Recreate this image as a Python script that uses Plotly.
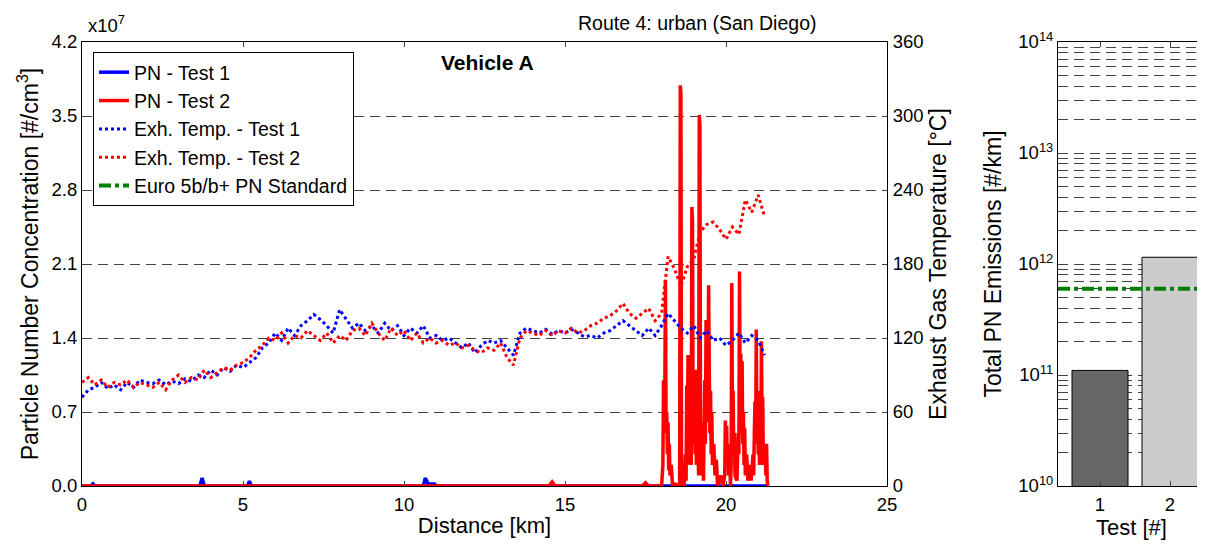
import plotly.graph_objects as go

# ---------------- data ----------------
temp_dist = [round(0.2 * i, 1) for i in range(107)]  # 0.0 ... 21.2 km
temp_test1 = [72, 78, 80, 84, 79, 82, 78, 84, 80, 86, 84, 83, 86, 82, 85, 83, 87, 85, 90, 88,
              94, 90, 96, 93, 98, 96, 100, 104, 112, 116, 124, 118, 128, 122, 130, 134, 139, 135, 130, 124,
              143, 136, 128, 132, 126, 130, 124, 132, 126, 130, 122, 128, 124, 130, 120, 122, 118, 120, 116, 112,
              116, 108, 114, 118, 116, 118, 112, 106, 124, 128, 126, 124, 127, 123, 126, 124, 127, 124, 121, 122,
              120, 124, 126, 130, 134, 130, 126, 122, 128, 122, 130, 140, 134, 128, 124, 130, 120, 126, 118, 120,
              114, 118, 124, 116, 122, 118, 106]
temp_test2 = [84, 88, 82, 86, 80, 84, 82, 86, 80, 84, 82, 80, 84, 78, 86, 90, 84, 88, 86, 94,
              88, 92, 96, 94, 98, 100, 104, 110, 114, 120, 118, 124, 116, 122, 120, 126, 122, 118, 124, 116,
              122, 118, 126, 128, 122, 132, 124, 118, 128, 122, 126, 118, 124, 116, 120, 116, 118, 114, 116, 112,
              114, 110, 108, 112, 110, 116, 104, 98, 120, 126, 124, 122, 126, 122, 126, 124, 128, 124, 126, 130,
              132, 136, 138, 142, 148, 140, 136, 140, 144, 134, 140, 186, 176, 162, 178, 184, 206, 212, 214, 208,
              200, 210, 204, 232, 222, 236, 218]

pn_dist_test1 = [0, 0.28, 0.34, 0.40, 3.66, 3.73, 3.80, 5.14, 5.20, 5.26, 10.60, 10.66, 10.75, 10.95, 11.0, 21.3]
pn_test1 = [0, 0, 0.02, 0, 0, 0.075, 0, 0, 0.045, 0, 0, 0.075, 0.02, 0.02, 0, 0]  # x10^7 #/cm3

pn_dist_test2 = [0, 14.5, 14.6, 14.7, 17.4, 17.5, 17.6,
                 17.90, 18.00, 18.04, 18.06, 18.08, 18.10, 18.12, 18.14, 18.16, 18.18, 18.20, 18.22, 18.24,
                 18.26, 18.30, 18.34, 18.40, 18.56, 18.58, 18.60, 18.62, 18.70, 18.74, 18.76, 18.78, 18.80,
                 18.82, 18.84, 18.86, 18.88, 18.92, 18.94, 18.96, 18.98, 19.00, 19.02, 19.04, 19.06, 19.08,
                 19.10, 19.12, 19.15, 19.17, 19.19, 19.21, 19.23, 19.25, 19.27, 19.30, 19.34, 19.36, 19.38,
                 19.40, 19.42, 19.44, 19.46, 19.48, 19.50, 19.52, 19.54, 19.56, 19.58, 19.62, 19.66, 19.70,
                 19.74, 19.84, 19.90, 19.96, 19.98, 20.00, 20.02, 20.04, 20.06, 20.08, 20.12, 20.14, 20.16,
                 20.18, 20.20, 20.22, 20.24, 20.26, 20.28, 20.34, 20.38, 20.40, 20.42, 20.44, 20.46, 20.48,
                 20.50, 20.52, 20.54, 20.56, 20.58, 20.60, 20.64, 20.68, 20.74, 20.78, 20.84, 20.86, 20.88,
                 20.90, 20.92, 20.94, 20.96, 20.98, 21.00, 21.02, 21.04, 21.06, 21.08, 21.10, 21.12, 21.14,
                 21.16, 21.20, 21.24, 21.26, 21.28, 21.30]
pn_test2 = [0, 0, 0.04, 0, 0, 0.03, 0,
            0, 0, 0.2, 1.0, 0.5, 0.9, 1.95, 0.5, 0.7, 0.3, 0.6, 0.15, 0.4,
            0.1, 0.2, 0, 0.02, 0, 3.79, 3.7, 0, 0, 0.3, 0.05, 0.95, 0.4,
            1.24, 0.2, 0.7, 0.3, 0.2, 2.64, 2.5, 0.4, 1.1, 0.9, 0.3, 0.8, 0.2,
            1.1, 0.5, 0.1, 3.51, 3.4, 0.2, 0.6, 0.1, 0.4, 0.05, 1.0, 0.4, 1.57,
            0.6, 1.2, 0.8, 1.9, 1.1, 0.5, 0.9, 0.3, 0.7, 0.2, 0.4, 0.1, 0.25,
            0, 0.1, 0, 0.1, 0.62, 0.3, 0.57, 0.2, 0.4, 0.1, 0.2, 0, 0.2,
            1.92, 0.6, 0.9, 0.3, 0.5, 0.1, 0.05, 0.5, 0.3, 2.03, 0.8, 1.25, 0.5,
            1.18, 0.4, 0.7, 0.2, 0.55, 0.1, 0.3, 0.05, 0.2, 0.05, 0.3, 0.1, 0.5,
            0.8, 0.4, 1.48, 0.5, 0.9, 0.3, 0.6, 0.2, 0.5, 0.2, 1.37, 0.6, 0.84,
            0.2, 0.4, 0.1, 0.4, 0.05, 0]  # x10^7 #/cm3

tests = [1, 2]
total_pn = [1.1e11, 1.15e12]  # #/km
bar_colors = ["#666666", "#cccccc"]
euro_std = 6.0e11  # #/km
euro_x = [0.4, 2.6]

left_ticks = [0, 0.7, 1.4, 2.1, 2.8, 3.5, 4.2]
left_ticktext = ["0.0", "0.7", "1.4", "2.1", "2.8", "3.5", "4.2"]
right_ticks = [0, 60, 120, 180, 240, 300, 360]
dist_ticks = [0, 5, 10, 15, 20, 25]
log_major = [1e10, 1e11, 1e12, 1e13, 1e14]
log_major_text = ["10<sup>10</sup>", "10<sup>11</sup>", "10<sup>12</sup>", "10<sup>13</sup>", "10<sup>14</sup>"]
log_minor = [m * 10 ** e for e in range(10, 14) for m in range(2, 10)]

# ---------------- figure ----------------
FONT = "Arial, Liberation Sans, sans-serif"
OFF = 8  # page body margin
W, H = 1205 - OFF, 544 - OFF


def px_x(p):
    return (p - OFF) / W


def px_y(p):
    return 1 - (p - OFF) / H


fig = go.Figure()

fig.add_trace(go.Scatter(x=pn_dist_test1, y=pn_test1, mode="lines", name="PN - Test 1",
                         line=dict(color="#0000ff", width=3.5), xaxis="x", yaxis="y",
                         legendgroup="a"))
fig.add_trace(go.Scatter(x=pn_dist_test2, y=pn_test2, mode="lines", name="PN - Test 2",
                         line=dict(color="#ff0000", width=3.5), xaxis="x", yaxis="y",
                         legendgroup="b"))
fig.add_trace(go.Scatter(x=temp_dist, y=temp_test1, mode="lines", name="Exh. Temp. - Test 1",
                         line=dict(color="#0000ff", width=3, dash="dot"), xaxis="x", yaxis="y2",
                         legendgroup="c"))
fig.add_trace(go.Scatter(x=temp_dist, y=temp_test2, mode="lines", name="Exh. Temp. - Test 2",
                         line=dict(color="#ff0000", width=3, dash="dot"), xaxis="x", yaxis="y2",
                         legendgroup="d"))

fig.add_trace(go.Bar(x=tests, y=total_pn, marker=dict(color=bar_colors, line=dict(color="black", width=1)),
                     width=0.8, showlegend=False, xaxis="x3", yaxis="y3"))
fig.add_trace(go.Scatter(x=euro_x, y=[euro_std, euro_std], mode="lines", name="Euro 5b/b+ PN Standard",
                         line=dict(color="#008000", width=4, dash="dashdot"), xaxis="x3", yaxis="y3",
                         legendgroup="e"))

ydom = [px_y(486), px_y(42)]
tickfont = dict(family=FONT, size=18.5, color="black")
xtitlefont = dict(family=FONT, size=22, color="black")
ytitlefont = dict(family=FONT, size=23, color="black")
grid_dash = "10px,6px"

fig.update_layout(
    width=W, height=H,
    margin=dict(l=0, r=0, t=0, b=0),
    paper_bgcolor="white", plot_bgcolor="white",
    font=dict(family=FONT, size=18, color="black"),
    showlegend=True,
    legend=dict(x=px_x(93), y=px_y(52), xanchor="left", yanchor="top",
                bgcolor="white", bordercolor="black", borderwidth=1,
                font=dict(family=FONT, size=19.5, color="black"),
                tracegroupgap=3, traceorder="normal"),
    xaxis=dict(domain=[px_x(82), px_x(887)], range=[0, 25], tickvals=dist_ticks,
               ticks="inside", ticklen=5, showline=True, linecolor="black", linewidth=1,
               mirror="ticks", showgrid=False, zeroline=False, tickfont=tickfont,
               ticklabelstandoff=2,
               title=dict(text="Distance [km]", font=xtitlefont, standoff=3), automargin=False,
               anchor="y"),
    yaxis=dict(domain=ydom, range=[0, 4.2], tickvals=left_ticks, ticktext=left_ticktext,
               ticks="inside", ticklen=5, showline=True, linecolor="black", linewidth=1,
               showgrid=True, gridcolor="#444444", griddash=grid_dash, gridwidth=1,
               zeroline=False, tickfont=tickfont, automargin=False, anchor="x",
               title=dict(text="Particle Number Concentration [#/cm<sup>3</sup>]", font=ytitlefont,
                          standoff=6)),
    yaxis2=dict(domain=ydom, range=[0, 360], tickvals=right_ticks, overlaying="y", side="right",
                ticks="inside", ticklen=5, showline=True, linecolor="black", linewidth=1,
                showgrid=False, zeroline=False, tickfont=tickfont, automargin=False, anchor="x",
                ticklabelstandoff=1,
                title=dict(text="Exhaust Gas Temperature [°C]", font=ytitlefont, standoff=7)),
    xaxis3=dict(domain=[px_x(1058), 1.0], range=[0.4, 2.5], tickvals=tests,
                ticks="inside", ticklen=5, showline=True, linecolor="black", linewidth=1,
                mirror="ticks", showgrid=False, zeroline=False, tickfont=tickfont, automargin=False,
                ticklabelstandoff=2,
                anchor="y3", title=dict(text="Test [#]", font=xtitlefont, standoff=3)),
    yaxis3=dict(domain=ydom, type="log", range=[10, 14], tickvals=log_major, ticktext=log_major_text,
                ticks="inside", ticklen=5, showline=True, linecolor="black", linewidth=1,
                mirror="ticks", showgrid=True, gridcolor="#444444", griddash=grid_dash, gridwidth=1,
                zeroline=False, tickfont=tickfont, automargin=False, anchor="x3",
                minor=dict(tickvals=log_minor, ticks="inside", ticklen=3, showgrid=True,
                           gridcolor="#444444", griddash=grid_dash, gridwidth=1),
                title=dict(text="Total PN Emissions [#/km]", font=ytitlefont, standoff=10)),
    annotations=[
        dict(text="x10<sup>7</sup>", x=px_x(86), y=px_y(38), xref="paper", yref="paper",
             xanchor="left", yanchor="bottom", showarrow=False, font=dict(family=FONT, size=18.5)),
        dict(text="Route 4: urban (San Diego)", x=px_x(697), y=px_y(36), xref="paper", yref="paper",
             xanchor="center", yanchor="bottom", showarrow=False, font=dict(family=FONT, size=19.5)),
        dict(text="<b>Vehicle A</b>", x=px_x(487), y=px_y(49), xref="paper", yref="paper",
             xanchor="center", yanchor="top", showarrow=False, font=dict(family=FONT, size=21)),
    ],
)

fig.write_html("out.html")
